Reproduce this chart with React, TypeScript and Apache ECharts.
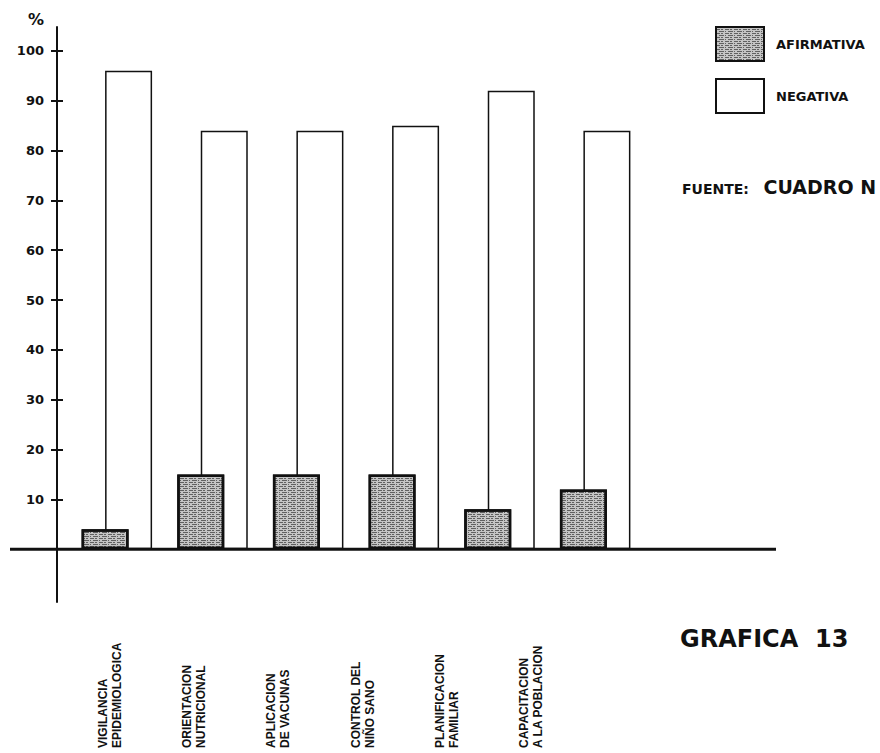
import React, { useEffect, useRef } from "react";
import * as echarts from "echarts";

const categories = [
  "VIGILANCIA\nEPIDEMIOLOGICA",
  "ORIENTACION\nNUTRICIONAL",
  "APLICACION\nDE VACUNAS",
  "CONTROL DEL\nNIÑO SANO",
  "PLANIFICACION\nFAMILIAR",
  "CAPACITACION\nA LA POBLACION",
];
const afirmativa = [4, 15, 15, 15, 8, 12];
const negativa = [96, 84, 84, 85, 92, 84];
const yTicks = [10, 20, 30, 40, 50, 60, 70, 80, 90, 100];

const BOLD = "'Liberation Sans', Arial, sans-serif";
const HEAVY = "'DejaVu Sans', sans-serif";

export default function App() {
  const ref = useRef<HTMLDivElement>(null);
  useEffect(() => {
    if (!ref.current) return;
    const chart = echarts.init(ref.current, null, { renderer: "svg" });
    const yBase = {
      type: "value",
      min: -10.6,
      max: 104.8,
      position: "left",
      offset: 12,
      splitLine: { show: false },
    };
    chart.setOption({
      animation: false,
      backgroundColor: "#ffffff",
      grid: [
        { left: 69, width: 574, top: 27, height: 575 },
        { left: 68, width: 505, top: 27, height: 575 },
      ],
      legend: {
        left: 715,
        top: 26,
        padding: 0,
        orient: "vertical",
        itemWidth: 48,
        itemHeight: 34,
        itemGap: 16,
        icon: "rect",
        data: ["AFIRMATIVA", "NEGATIVA"],
        textStyle: {
          fontFamily: HEAVY,
          fontWeight: "bold",
          fontSize: 13,
          color: "#111",
          padding: [0, 0, 0, 7],
        },
      },
      xAxis: [
        {
          type: "category",
          gridIndex: 0,
          data: categories,
          axisLine: { show: false },
          axisTick: { show: false },
          axisLabel: { show: false },
        },
        {
          type: "category",
          gridIndex: 1,
          data: categories,
          position: "bottom",
          axisLine: { show: false, onZero: false },
          axisTick: { show: false },
          axisLabel: {
            rotate: 90,
            align: "left",
            margin: 146,
            interval: 0,
            fontFamily: BOLD,
            fontWeight: "bold",
            fontSize: 12,
            lineHeight: 14,
            color: "#111",
          },
        },
      ],
      yAxis: [
        {
          ...yBase,
          gridIndex: 0,
          name: "%",
          nameLocation: "end",
          nameGap: 0,
          nameTextStyle: {
            fontFamily: HEAVY,
            fontWeight: "bold",
            fontSize: 16,
            color: "#111",
            padding: [0, 0, 0, -42],
            verticalAlign: "bottom",
          },
          axisLine: { show: true, onZero: false, lineStyle: { color: "#111", width: 2 } },
          axisTick: {
            show: true,
            inside: false,
            length: 6,
            customValues: yTicks,
            lineStyle: { color: "#111", width: 2 },
          },
          axisLabel: {
            show: true,
            customValues: yTicks,
            margin: 13,
            fontFamily: HEAVY,
            fontWeight: "bold",
            fontSize: 13,
            color: "#111",
          },
        },
        {
          ...yBase,
          gridIndex: 0,
          axisLine: { show: false },
          axisTick: {
            show: true,
            inside: true,
            length: 6,
            customValues: yTicks,
            lineStyle: { color: "#111", width: 2 },
          },
          axisLabel: { show: false },
        },
        {
          type: "value",
          gridIndex: 1,
          show: false,
        },
      ],
      series: [
        {
          name: "AFIRMATIVA",
          type: "bar",
          xAxisIndex: 0,
          yAxisIndex: 0,
          data: afirmativa,
          barWidth: 47,
          barGap: "-50%",
          z: 3,
          itemStyle: {
            color: "#c4c4c4",
            borderColor: "#111",
            borderWidth: 2.5,
            decal: {
              symbol: "rect",
              symbolSize: 1,
              dashArrayX: [[4, 1, 2, 2], [1, 2, 5, 1]],
              dashArrayY: [1, 1],
              color: "rgba(30,30,30,0.6)",
              rotation: 0,
            },
          },
        },
        {
          name: "NEGATIVA",
          type: "bar",
          xAxisIndex: 0,
          yAxisIndex: 0,
          data: negativa,
          barWidth: 47,
          barGap: "-50%",
          z: 2,
          itemStyle: {
            color: "#ffffff",
            borderColor: "#111",
            borderWidth: 1.5,
          },
        },
      ],
    });

    const y0 = chart.convertToPixel({ yAxisIndex: 0 }, 0) as number;
    chart.setOption({
      graphic: [
        {
          type: "line",
          shape: { x1: 10, y1: y0, x2: 776, y2: y0 },
          style: { stroke: "#111", lineWidth: 3 },
          z: 10,
        },
        {
          type: "text",
          left: 682,
          top: 177,
          style: {
            text: "{a|FUENTE:   }{b|CUADRO N}",
            rich: {
              a: { fontFamily: HEAVY, fontWeight: "bold", fontSize: 14, fill: "#111", verticalAlign: "bottom" },
              b: { fontFamily: HEAVY, fontWeight: "bold", fontSize: 19, fill: "#111", verticalAlign: "bottom" },
            },
          },
        },
        {
          type: "text",
          left: 680,
          top: 627,
          style: {
            text: "GRAFICA  13",
            fontFamily: HEAVY,
            fontWeight: "bold",
            fontSize: 24,
            fill: "#111",
          },
        },
      ],
    });

    return () => chart.dispose();
  }, []);
  return (
    <div
      ref={ref}
      style={{ position: "fixed", left: 0, top: 0, width: 880, height: 753 }}
    />
  );
}
